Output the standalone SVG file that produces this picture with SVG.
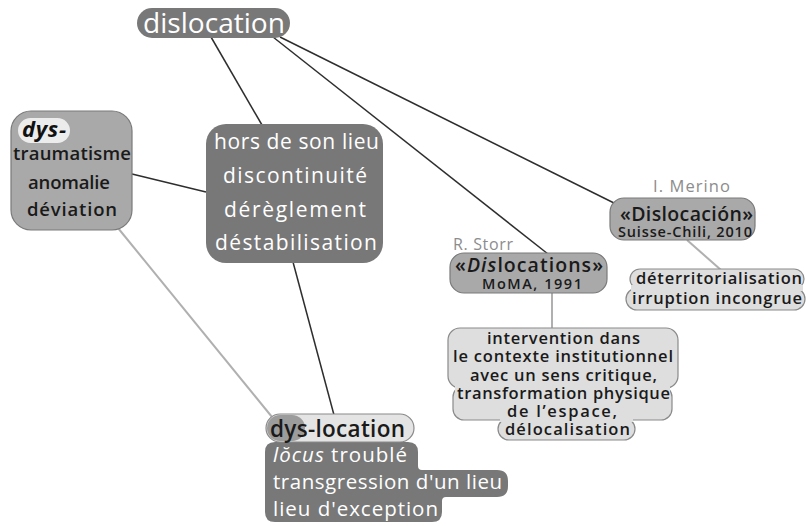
<svg xmlns="http://www.w3.org/2000/svg" width="806" height="526" viewBox="0 0 806 526">
<style>
text{font-family:"Open Sans","Noto Sans","DejaVu Sans",sans-serif}
.w{fill:#fff}
.k{fill:#1a1a1a;font-weight:600}
.kb{fill:#111;font-weight:700;font-style:italic}
.g{fill:#8c8c8c}
.dark{fill:#787878}
.mid{fill:#a9a9a9;stroke:#7a7a7a;stroke-width:1.2}
.light{fill:#dedede;stroke:#8a8a8a;stroke-width:1.2}
.lightf{fill:#dedede}
.c{stroke:#2e2e2e;stroke-width:1.5;fill:none}
.cl{stroke:#b0b0b0;stroke-width:2;fill:none}
</style>
<rect width="806" height="526" fill="#fff"/>
<g id="connectors">
<line class="c" x1="211" y1="37" x2="262" y2="125"/>
<line class="c" x1="273" y1="37" x2="548" y2="254"/>
<line class="c" x1="280" y1="37" x2="616" y2="204"/>
<line class="c" x1="132" y1="174" x2="206" y2="192"/>
<line class="c" x1="293" y1="262" x2="334" y2="415"/>
<line class="cl" x1="118" y1="228" x2="272" y2="417"/>
<line class="cl" x1="552" y1="293" x2="552" y2="329"/>
<line class="cl" x1="687" y1="240" x2="721" y2="270"/>
</g>
<g id="dislocation">
<rect class="dark" x="137" y="8" width="153" height="30" rx="15"/>
<text class="w" x="143" y="33" font-size="28" textLength="142" lengthAdjust="spacingAndGlyphs">dislocation</text>
</g>
<g id="dys">
<rect class="mid" x="11" y="111" width="121" height="119" rx="20"/>
<rect x="18" y="118" width="52" height="25" rx="12.5" fill="#ececec"/>
<text class="kb" x="22" y="137" font-size="22" textLength="44">dys-</text>
<text class="k" x="13" y="160" font-size="18.5" textLength="118">traumatisme</text>
<text class="k" x="28" y="189" font-size="18.5" textLength="82">anomalie</text>
<text class="k" x="27" y="216" font-size="18.5" textLength="90">déviation</text>
</g>
<g id="hors">
<rect class="dark" x="206" y="124" width="177" height="139" rx="20"/>
<text class="w" x="214" y="149" font-size="21" textLength="165">hors de son lieu</text>
<text class="w" x="223" y="183" font-size="21" textLength="144">discontinuité</text>
<text class="w" x="224" y="217" font-size="21" textLength="142">dérèglement</text>
<text class="w" x="215" y="250" font-size="21" textLength="162">déstabilisation</text>
</g>
<g id="merino">
<text class="g" x="653" y="192" font-size="16.5" textLength="77">I. Merino</text>
<rect class="mid" x="610" y="198" width="145" height="42" rx="14"/>
<text class="k" x="620" y="221" font-size="19.5" textLength="133">«Dislocación»</text>
<text class="k" x="618" y="236.5" font-size="14.5" textLength="134">Suisse-Chili, 2010</text>
</g>
<g id="deterritorialisation">
<rect class="light" x="630" y="269" width="174" height="20" rx="10"/>
<rect class="light" x="626" y="288" width="179" height="22" rx="11"/>
<rect class="lightf" x="631" y="285" width="172" height="6"/>
<text class="k" x="636" y="284" font-size="16.5" textLength="166">déterritorialisation</text>
<text class="k" x="632" y="304" font-size="16.5" textLength="170">irruption incongrue</text>
</g>
<g id="storr">
<text class="g" x="453" y="250" font-size="16" textLength="60">R. Storr</text>
<rect class="mid" x="450" y="253" width="157" height="40" rx="14"/>
<text class="k" x="455" y="272" font-size="19.5" textLength="148">«<tspan font-style="italic">Dis</tspan>locations»</text>
<text class="k" x="482" y="288.5" font-size="14.5" textLength="100">MoMA, 1991</text>
</g>
<g id="intervention">
<rect class="light" x="448" y="328" width="230" height="60" rx="12"/>
<rect class="light" x="453" y="386" width="219" height="34" rx="11"/>
<rect class="light" x="498" y="418" width="137" height="22" rx="11"/>
<rect class="lightf" x="455" y="380" width="215" height="12"/>
<rect class="lightf" x="500" y="414" width="133" height="8"/>
<text class="k" font-size="16.5">
<tspan x="487" y="344" textLength="153">intervention dans</tspan>
<tspan x="453" y="362" textLength="220">le contexte institutionnel</tspan>
<tspan x="470" y="381" textLength="187">avec un sens critique,</tspan>
<tspan x="457" y="399" textLength="213">transformation physique</tspan>
<tspan x="507" y="417" textLength="110">de l’espace,</tspan>
<tspan x="505" y="435" textLength="125">délocalisation</tspan>
</text>
</g>
<g id="dys-location">
<path class="dark" d="M275 442 H408 Q418 442 418 452 V466 Q418 470 422 470 H497 Q508 470 508 481 V486 Q508 497 497 497 H446 Q442 497 442 501 V512 Q442 522 432 522 H275 Q265 522 265 512 V452 Q265 442 275 442 Z"/>
<rect x="266" y="414" width="148" height="28" rx="14" fill="#e4e4e4" stroke="#8a8a8a" stroke-width="1.2"/>
<rect x="267" y="415" width="38" height="26" rx="13" fill="#9c9c9c"/>
<text class="k" x="270" y="437" font-size="22.5" textLength="135">dys-location</text>
<text class="w" x="273" y="462" font-size="20.5" textLength="134"><tspan font-style="italic">lŏcus</tspan> troublé</text>
<text class="w" x="273" y="489" font-size="20.5" textLength="229">transgression d'un lieu</text>
<text class="w" x="273" y="516" font-size="20.5" textLength="165">lieu d'exception</text>
</g>
</svg>
